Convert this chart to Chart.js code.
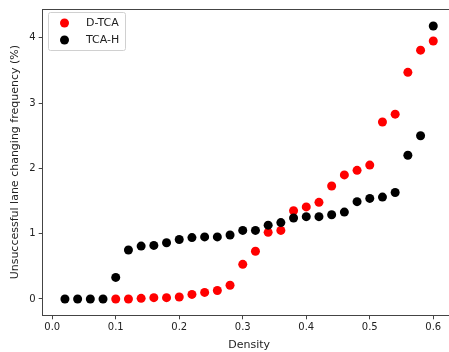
<!DOCTYPE html>
<html>
<head>
<meta charset="utf-8">
<script src="https://cdn.jsdelivr.net/npm/chart.js@4.4.1/dist/chart.umd.min.js"></script>
<style>
    html, body { margin: 0; padding: 0; background: #fff; overflow: hidden; }
    #wrap { width: 470px; height: 352px; position: relative; }
</style>
</head>
<body>
<div id="wrap"><canvas id="scatterChart"></canvas></div>
<script>
// --- data ---
const seriesNames = ['D-TCA', 'TCA-H'];
const dtcaDensity = [0.10, 0.12, 0.14, 0.16, 0.18, 0.20, 0.22, 0.24, 0.26, 0.28, 0.30, 0.32, 0.34,
                     0.36, 0.38, 0.40, 0.42, 0.44, 0.46, 0.48, 0.50, 0.52, 0.54, 0.56, 0.58, 0.60];
const dtcaFreq = [0.00, 0.00, 0.01, 0.02, 0.02, 0.03, 0.07, 0.10, 0.13, 0.21, 0.53, 0.73, 1.02,
                  1.05, 1.35, 1.41, 1.48, 1.73, 1.90, 1.97, 2.05, 2.71, 2.83, 3.47, 3.81, 3.95];
const tcahDensity = [0.02, 0.04, 0.06, 0.08, 0.10, 0.12, 0.14, 0.16, 0.18, 0.20, 0.22, 0.24, 0.26, 0.28, 0.30,
                     0.32, 0.34, 0.36, 0.38, 0.40, 0.42, 0.44, 0.46, 0.48, 0.50, 0.52, 0.54, 0.56, 0.58, 0.60];
const tcahFreq = [0.00, 0.00, 0.00, 0.00, 0.33, 0.75, 0.81, 0.82, 0.86, 0.91, 0.94, 0.95, 0.95, 0.98, 1.05,
                  1.05, 1.13, 1.17, 1.24, 1.26, 1.26, 1.29, 1.33, 1.49, 1.54, 1.56, 1.63, 2.20, 2.50, 4.18];
const xTickValues = [0.0, 0.1, 0.2, 0.3, 0.4, 0.5, 0.6];
const yTickValues = [0, 1, 2, 3, 4];

const textColor = '#222';
const spineColor = '#444';
const font = 'DejaVu Sans';

function toPoints(xs, ys) {
    return xs.map((x, i) => ({ x: x, y: ys[i] }));
}

// matplotlib-like legend box in the upper left corner
const boxLegend = {
    id: 'boxLegend',
    afterDraw(chart) {
        const ctx = chart.ctx;
        const x0 = 48.5, y0 = 12.5, w = 77, h = 38;
        ctx.save();
        ctx.fillStyle = 'rgba(255,255,255,0.8)';
        ctx.strokeStyle = '#d0d0d0';
        ctx.lineWidth = 1;
        ctx.beginPath();
        ctx.roundRect(x0, y0, w, h, 2);
        ctx.fill();
        ctx.stroke();
        ctx.font = '11px "' + font + '"';
        ctx.textBaseline = 'middle';
        chart.data.datasets.forEach((ds, i) => {
            const cy = 23 + i * 17;
            ctx.fillStyle = ds.backgroundColor;
            ctx.beginPath();
            ctx.arc(64.5, cy, 4.5, 0, Math.PI * 2);
            ctx.fill();
            ctx.fillStyle = textColor;
            ctx.fillText(ds.label, 86, cy);
        });
        ctx.restore();
    }
};

// top spine (right spine falls outside the picture)
const topSpine = {
    id: 'topSpine',
    afterDraw(chart) {
        const a = chart.chartArea;
        const c = chart.ctx;
        c.save();
        c.strokeStyle = spineColor;
        c.lineWidth = 1;
        c.beginPath();
        c.moveTo(a.left, Math.round(a.top) + 0.5);
        c.lineTo(a.right, Math.round(a.top) + 0.5);
        c.stroke();
        c.restore();
    }
};

const ctxScatter = document.getElementById('scatterChart');
new Chart(ctxScatter, {
    type: 'scatter',
    data: {
        datasets: [
            {
                label: seriesNames[0],
                data: toPoints(dtcaDensity, dtcaFreq),
                backgroundColor: '#ff0000',
                borderWidth: 0,
                pointRadius: 4.5,
                order: 2
            },
            {
                label: seriesNames[1],
                data: toPoints(tcahDensity, tcahFreq),
                backgroundColor: '#000000',
                borderWidth: 0,
                pointRadius: 4.5,
                order: 1
            }
        ]
    },
    options: {
        responsive: true,
        maintainAspectRatio: false,
        animation: false,
        layout: { padding: { top: 6.7, right: 14.5, left: 0, bottom: 0 } },
        plugins: {
            legend: { display: false },
            tooltip: { enabled: false }
        },
        scales: {
            x: {
                type: 'linear',
                min: -0.015,
                max: 0.635,
                afterBuildTicks: (scale) => { scale.ticks = xTickValues.map(v => ({ value: v })); },
                afterFit: (scale) => { scale.height = 36.7; },
                border: { color: spineColor, width: 1 },
                grid: { drawOnChartArea: false, tickLength: 4, color: spineColor },
                ticks: {
                    color: textColor,
                    font: { family: font, size: 10 },
                    padding: 2,
                    maxRotation: 0,
                    callback: (v) => Number(v).toFixed(1)
                },
                title: {
                    display: true,
                    text: 'Density',
                    color: textColor,
                    font: { family: font, size: 11 },
                    padding: { top: 1, bottom: 0 }
                }
            },
            y: {
                type: 'linear',
                min: -0.25,
                max: 4.44,
                afterBuildTicks: (scale) => { scale.ticks = yTickValues.map(v => ({ value: v })); },
                afterFit: (scale) => { scale.width = 42.7; },
                border: { color: spineColor, width: 1 },
                grid: { drawOnChartArea: false, tickLength: 4, color: spineColor },
                ticks: {
                    color: textColor,
                    font: { family: font, size: 10 },
                    padding: 3,
                    callback: (v) => String(v)
                },
                title: {
                    display: true,
                    text: 'Unsuccessful lane changing frequency (%)',
                    color: textColor,
                    font: { family: font, size: 11 },
                    padding: { top: 9, bottom: 0 }
                }
            }
        }
    },
    plugins: [boxLegend, topSpine]
});
</script>
</body>
</html>
